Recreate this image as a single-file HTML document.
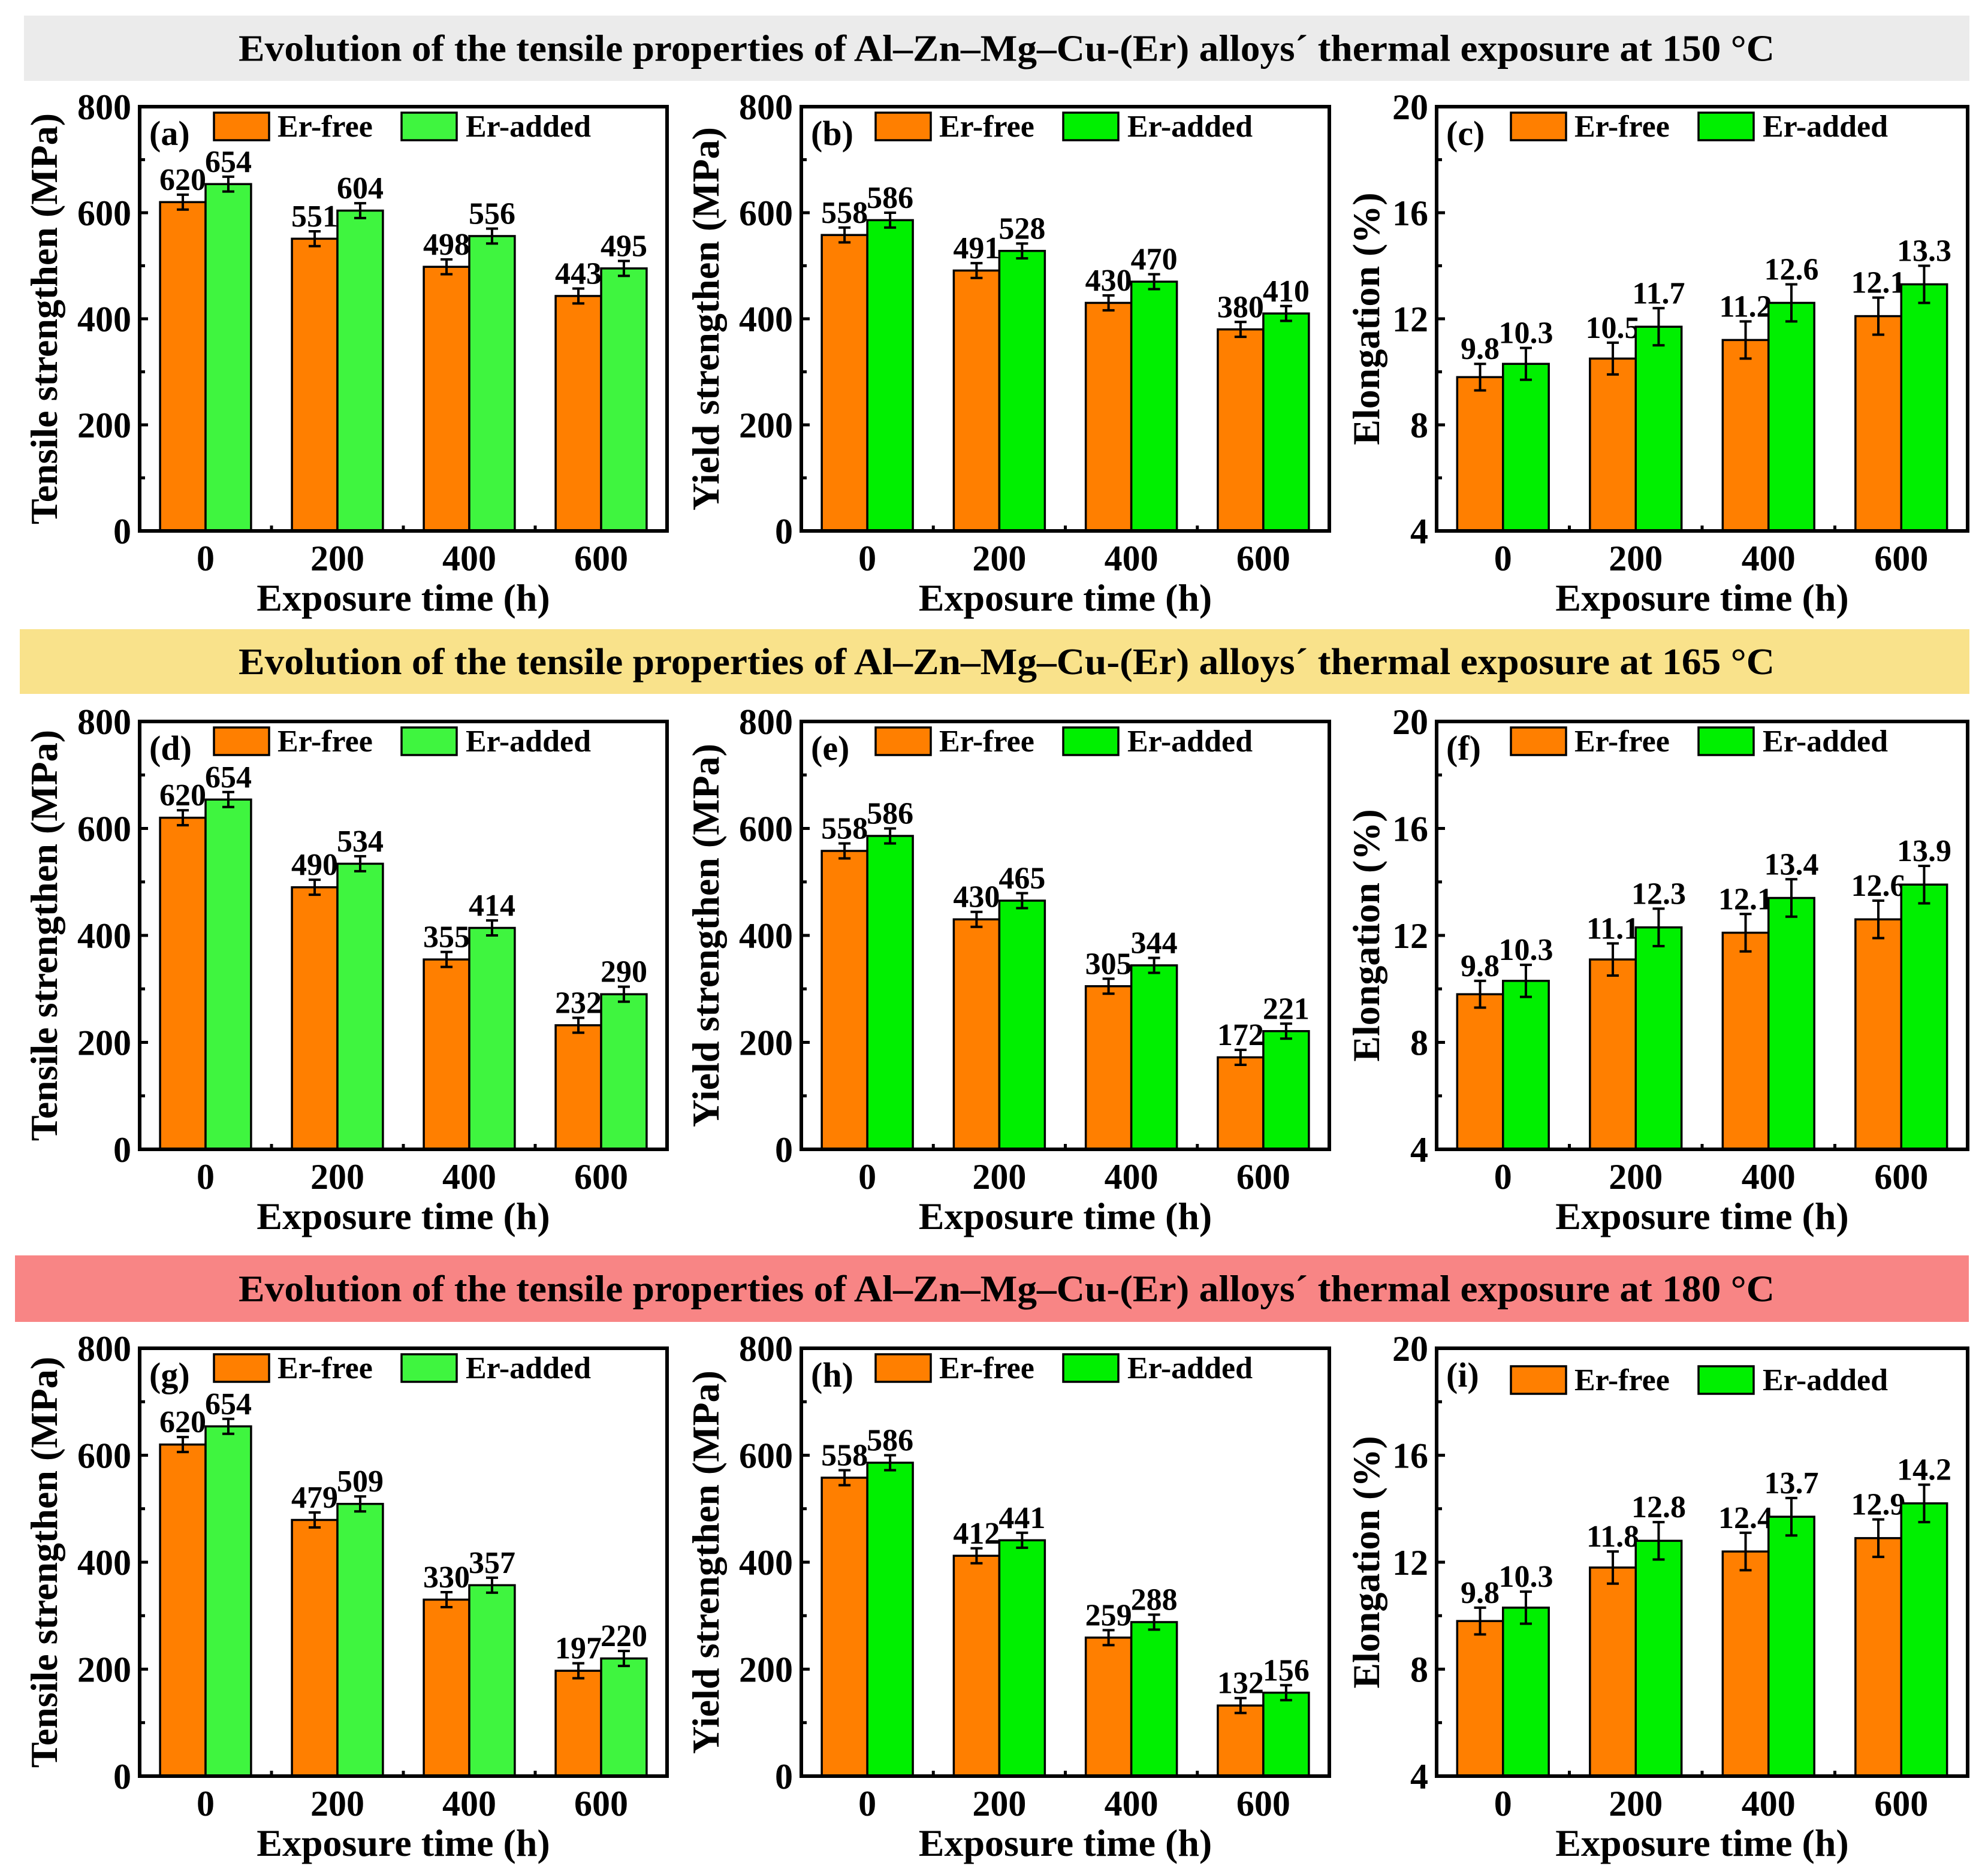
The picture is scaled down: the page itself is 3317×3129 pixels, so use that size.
<!DOCTYPE html>
<html><head><meta charset="utf-8">
<style>
html,body{margin:0;padding:0;background:#fff;}
svg{display:block;font-family:"Liberation Serif","Times New Roman",serif;font-weight:bold;}
</style></head>
<body>
<svg id="fig" xmlns="http://www.w3.org/2000/svg" width="3317" height="3129" viewBox="0 0 3317 3129"></svg>
<script>
const categories = ["0","200","400","600"];
const aFree = [620,551,498,443];
const aAdded = [654,604,556,495];
const bFree = [558,491,430,380];
const bAdded = [586,528,470,410];
const cFree = [9.8,10.5,11.2,12.1];
const cAdded = [10.3,11.7,12.6,13.3];
const dFree = [620,490,355,232];
const dAdded = [654,534,414,290];
const eFree = [558,430,305,172];
const eAdded = [586,465,344,221];
const fFree = [9.8,11.1,12.1,12.6];
const fAdded = [10.3,12.3,13.4,13.9];
const gFree = [620,479,330,197];
const gAdded = [654,509,357,220];
const hFree = [558,412,259,132];
const hAdded = [586,441,288,156];
const iFree = [9.8,11.8,12.4,12.9];
const iAdded = [10.3,12.8,13.7,14.2];
const strengthErr = [14,14,14,14];
const elongErrFree = [0.5,0.6,0.7,0.7];
const elongErrAdded = [0.6,0.7,0.7,0.7];
const strengthTicks = [0,200,400,600,800];
const elongTicks = [4,8,12,16,20];
const headerTexts = [
 "Evolution of the tensile properties of Al\u2013Zn\u2013Mg\u2013Cu-(Er) alloys\u00b4 thermal exposure at 150 \u00b0C",
 "Evolution of the tensile properties of Al\u2013Zn\u2013Mg\u2013Cu-(Er) alloys\u00b4 thermal exposure at 165 \u00b0C",
 "Evolution of the tensile properties of Al\u2013Zn\u2013Mg\u2013Cu-(Er) alloys\u00b4 thermal exposure at 180 \u00b0C"];

const NS = "http://www.w3.org/2000/svg";
const svg = document.getElementById("fig");
function mk(tag, attrs, parent){
  const e = document.createElementNS(NS, tag);
  for (const k in attrs) e.setAttribute(k, attrs[k]);
  (parent||svg).appendChild(e);
  return e;
}

const bands = [
  {x:40,y:26,w:3246,h:109,fill:"#ebebeb"},
  {x:33,y:1050,w:3253,h:108,fill:"#f9e28b"},
  {x:25,y:2095,w:3260,h:111,fill:"#f88585"}];
bands.forEach((b,i)=>{
  const r = mk("rect",{x:b.x,y:b.y,width:b.w,height:b.h,fill:b.fill});
  
  
  const t = mk("text",{x:398,y:b.y+b.h/2+21,"font-size":62,textLength:2563,lengthAdjust:"spacingAndGlyphs",fill:"#000"});
  t.textContent = headerTexts[i];
  
  
});

const colL = [233,1337,2397];
const colW = [880,881,886];
const rowT = [178,1204,2250];
const rowH = [708,714,714];
const panels = [
 {id:"a",free:aFree,added:aAdded,type:"t",g:"#3ff53f"},
 {id:"b",free:bFree,added:bAdded,type:"y",g:"#00f000"},
 {id:"c",free:cFree,added:cAdded,type:"e",g:"#00f000"},
 {id:"d",free:dFree,added:dAdded,type:"t",g:"#3ff53f"},
 {id:"e",free:eFree,added:eAdded,type:"y",g:"#00f000"},
 {id:"f",free:fFree,added:fAdded,type:"e",g:"#00f000"},
 {id:"g",free:gFree,added:gAdded,type:"t",g:"#3ff53f"},
 {id:"h",free:hFree,added:hAdded,type:"y",g:"#00f000"},
 {id:"i",free:iFree,added:iAdded,type:"e",g:"#00f000"}];

panels.forEach((p,idx)=>{
  const L = colL[idx%3], W = colW[idx%3], T = rowT[Math.floor(idx/3)], H = rowH[Math.floor(idx/3)];
  const B = T+H;
  const isE = p.type==="e";
  const ymin = isE?4:0, ymax = isE?20:800;
  const yS = v => B - (v-ymin)/(ymax-ymin)*H;
  const slot = W/categories.length;
  const xC = i => L + slot*(i+0.5);
  const bw = slot*0.345;
  const g = mk("g",{});
  
  
  const ticks = isE?elongTicks:strengthTicks;
  [["free","#ff7f00"],["added",p.g]].forEach(([s,col],si)=>{
    const vals = p[s];
    const errs = isE?(si===0?elongErrFree:elongErrAdded):strengthErr;
    vals.forEach((v,i)=>{
      const x0 = si===0? xC(i)-bw : xC(i);
      const r = mk("rect",{x:x0,y:yS(v),width:bw,height:B-yS(v),fill:col,stroke:"#000","stroke-width":3.5},g);
      
      
      const cx = x0+bw/2, yt = yS(v+errs[i]), yb = yS(v-errs[i]);
      const eb = mk("path",{d:`M${cx},${yt}V${yb}M${cx-10},${yt}H${cx+10}M${cx-10},${yb}H${cx+10}`,stroke:"#000","stroke-width":4,fill:"none"},g);
      
      
      const lt = mk("text",{x:cx,y:yt-8,"font-size":52,"text-anchor":"middle"},g);
      lt.textContent = isE? v.toFixed(1) : String(v);
      
      
    });
  });
  const fr = mk("rect",{x:L,y:T,width:W,height:H,fill:"none",stroke:"#000","stroke-width":6},g);
  
  
  ticks.forEach((t,k)=>{
    const y = yS(t);
    const tk = mk("line",{x1:L,x2:L+14,y1:y,y2:y,stroke:"#000","stroke-width":5},g);
    
    
    const tl = mk("text",{x:L-14,y:y+21,"font-size":60,"text-anchor":"end"},g);
    tl.textContent = t;
    
    
    if (k<ticks.length-1){
      const ym = yS((t+ticks[k+1])/2);
      const mt = mk("line",{x1:L,x2:L+9,y1:ym,y2:ym,stroke:"#000","stroke-width":5},g);
      
      
    }
  });
  categories.forEach((c,i)=>{
    const xl = mk("text",{x:xC(i),y:B+66,"font-size":60,"text-anchor":"middle"},g);
    xl.textContent = c;
    
    
    if (i>0){
      const mx = L+slot*i;
      const mt = mk("line",{x1:mx,x2:mx,y1:B,y2:B-9,stroke:"#000","stroke-width":5},g);
      
      
    }
  });
  const xt = mk("text",{x:L+W/2,y:B+133,"font-size":64,"text-anchor":"middle"},g);
  xt.textContent = "Exposure time (h)";
  
  
  const ytx = isE? L-118 : L-160;
  const yt = mk("text",{x:0,y:0,"font-size":64,"text-anchor":"middle",transform:`translate(${ytx+22},${T+H/2}) rotate(-90)`},g);
  yt.textContent = p.type==="t"?"Tensile strengthen (MPa)":(p.type==="y"?"Yield strengthen (MPa)":"Elongation (%)");
  
  
  const pl = mk("text",{x:L+16,y:T+64,"font-size":58},g);
  pl.textContent = "("+p.id+")";
  
  
  const ly = T + (p.id==="i"?30:10);
  const lb1 = mk("rect",{x:L+124,y:ly,width:92,height:46,fill:"#ff7f00",stroke:"#000","stroke-width":3.5},g);
  
  
  const lt1 = mk("text",{x:L+230,y:ly+40,"font-size":52},g);
  lt1.textContent = "Er-free";
  
  
  const lb2 = mk("rect",{x:L+437,y:ly,width:92,height:46,fill:p.g,stroke:"#000","stroke-width":3.5},g);
  
  
  const lt2 = mk("text",{x:L+544,y:ly+40,"font-size":52},g);
  lt2.textContent = "Er-added";
  
  
});
</script>
</body></html>
